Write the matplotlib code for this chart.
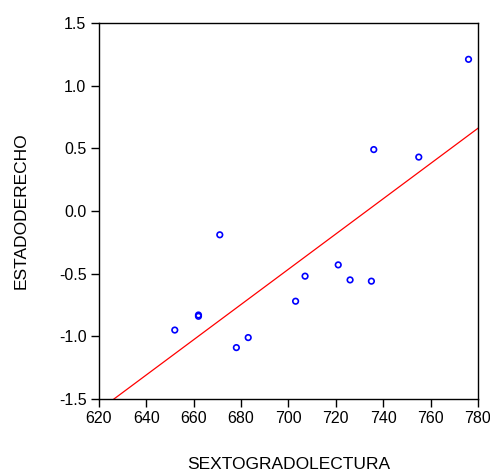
import numpy as np
import matplotlib
matplotlib.use("Agg")
import matplotlib.pyplot as plt

plt.rcParams['font.family'] = ['Liberation Sans', 'DejaVu Sans']

# Data
lectura = [652, 662, 662, 671, 678, 683, 703, 707, 721, 726, 735, 736, 755, 776]
derecho = [-0.95, -0.83, -0.84, -0.19, -1.09, -1.01, -0.72, -0.52, -0.43, -0.55, -0.56, 0.49, 0.43, 1.21]

x_ticks = [620, 640, 660, 680, 700, 720, 740, 760, 780]
y_ticks = [-1.5, -1.0, -0.5, 0.0, 0.5, 1.0, 1.5]

fig = plt.figure(figsize=(4.9, 4.72), dpi=100)
ax = fig.add_axes([0.202, 0.1547, 0.7735, 0.7966])

# Least squares fit line
slope, intercept = np.polyfit(lectura, derecho, 1)
xx = np.array([600, 800])
ax.plot(xx, intercept + slope * xx, color='red', lw=0.9, zorder=2)

ax.scatter(lectura, derecho, s=16, facecolors='none', edgecolors='blue', linewidths=1.2, zorder=3)

ax.set_xlim(620, 780)
ax.set_ylim(-1.5, 1.5)
ax.set_xticks(x_ticks)
ax.set_yticks(y_ticks)
ax.set_yticklabels([f"{v:.1f}" for v in y_ticks])
ax.tick_params(direction='out', length=6, width=1, pad=3, labelsize=11.5, top=False, right=False)
for sp in ax.spines.values():
    sp.set_linewidth(1)

ax.set_xlabel("SEXTOGRADOLECTURA", fontsize=12.5, labelpad=22)
ax.set_ylabel("ESTADODERECHO", fontsize=12.5, labelpad=22)

fig.savefig("out.png", dpi=100)
